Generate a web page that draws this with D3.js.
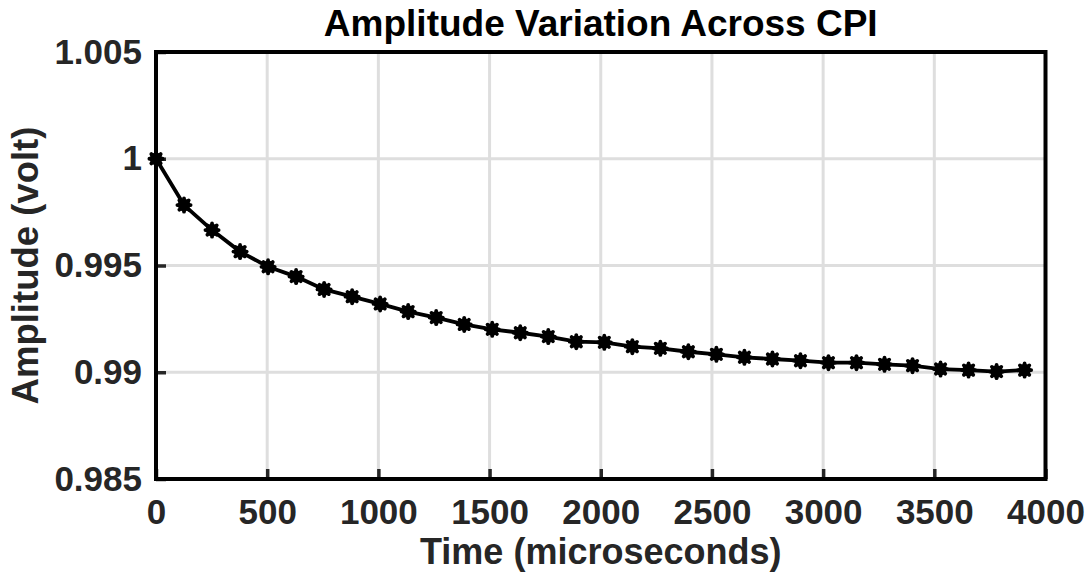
<!DOCTYPE html>
<html>
<head>
<meta charset="utf-8">
<script src="https://cdn.jsdelivr.net/npm/d3@7"></script>
<style>
  html, body { margin: 0; padding: 0; background: #fff; }
  svg { display: block; font-family: "Liberation Sans", Arial, Helvetica, sans-serif; font-weight: bold; }
</style>
</head>
<body>
<svg id="chart" width="1091" height="577"></svg>
<script>
// Pulse times across the coherent processing interval (microseconds)
const times = [0, 126, 252, 378, 504, 630, 756, 882, 1008, 1134, 1260, 1386, 1512, 1638, 1764, 1890,
               2016, 2142, 2268, 2394, 2520, 2646, 2772, 2898, 3024, 3150, 3276, 3402, 3528, 3654, 3780, 3906];
// Measured amplitude per pulse (volt)
const amplitudes = [1.0000, 0.99783, 0.99666, 0.99565, 0.99494, 0.99448, 0.99388, 0.99354, 0.99320, 0.99284,
                    0.99256, 0.99224, 0.99201, 0.99185, 0.99167, 0.99143, 0.99140, 0.99120, 0.99112, 0.99096,
                    0.99084, 0.99070, 0.99062, 0.99054, 0.99045, 0.99045, 0.99037, 0.99031, 0.99015, 0.99010,
                    0.99003, 0.99010];
const xTicks = [0, 500, 1000, 1500, 2000, 2500, 3000, 3500, 4000];
const yTicks = [0.985, 0.99, 0.995, 1, 1.005];
const yTickLabels = ["0.985", "0.99", "0.995", "1", "1.005"];

const svg = d3.select("#chart");
const plot = { left: 156, right: 1045.5, top: 52, bottom: 479 };

const x = d3.scaleLinear().domain([0, 4000]).range([plot.left, plot.right]);
const y = d3.scaleLinear().domain([0.985, 1.005]).range([plot.bottom, plot.top]);

const textColor = "#262626";

// Grid lines
const grid = svg.append("g");
grid.selectAll("line.gx").data(xTicks.slice(1, -1)).join("line")
  .attr("x1", d => x(d)).attr("x2", d => x(d))
  .attr("y1", plot.top).attr("y2", plot.bottom)
  .attr("stroke", "#dedede").attr("stroke-width", 3);
grid.selectAll("line.gy").data(yTicks.slice(1, -1)).join("line")
  .attr("y1", d => y(d)).attr("y2", d => y(d))
  .attr("x1", plot.left).attr("x2", plot.right)
  .attr("stroke", "#dedede").attr("stroke-width", 3);

// Axes with inward ticks
const xAxis = d3.axisBottom(x).tickValues(xTicks).tickSizeInner(-10).tickSizeOuter(0).tickPadding(20)
  .tickFormat(d3.format("d"));
const gx = svg.append("g").attr("transform", `translate(0,${plot.bottom})`).call(xAxis);
gx.select(".domain").remove();
gx.selectAll(".tick line").attr("stroke", "#262626").attr("stroke-width", 3.5);
gx.selectAll(".tick text").attr("fill", textColor).style("font-size", "35px").style("font-weight", "bold")
  .attr("font-family", "Liberation Sans, Arial, sans-serif");

const yAxis = d3.axisLeft(y).tickValues(yTicks).tickSizeInner(-10).tickSizeOuter(0).tickPadding(14)
  .tickFormat((d, i) => yTickLabels[i]);
const gy = svg.append("g").attr("transform", `translate(${plot.left},0)`).call(yAxis);
gy.select(".domain").remove();
gy.selectAll(".tick line").attr("stroke", "#262626").attr("stroke-width", 3.5);
gy.selectAll(".tick text").attr("fill", textColor).style("font-size", "35px").style("font-weight", "bold")
  .attr("font-family", "Liberation Sans, Arial, sans-serif");

// Box
svg.append("rect")
  .attr("x", plot.left).attr("y", plot.top)
  .attr("width", plot.right - plot.left).attr("height", plot.bottom - plot.top)
  .attr("fill", "none").attr("stroke", "#000").attr("stroke-width", 4);

// Data line
const line = d3.line().x((d, i) => x(times[i])).y(d => y(d));
svg.append("path").datum(amplitudes)
  .attr("d", line).attr("fill", "none").attr("stroke", "#000").attr("stroke-width", 3.8)
  .attr("stroke-linejoin", "round");

// Asterisk markers drawn with a heavy stroke
const markers = svg.append("g").selectAll("g").data(amplitudes).join("g")
  .attr("transform", (d, i) => `translate(${x(times[i])},${y(d)})`);
markers.append("circle").attr("r", 6.3).attr("fill", "#000");
const r = 6.6;
[0, 45, 90, 135].forEach(a => {
  const rad = a * Math.PI / 180;
  markers.append("line")
    .attr("x1", -r * Math.cos(rad)).attr("y1", -r * Math.sin(rad))
    .attr("x2", r * Math.cos(rad)).attr("y2", r * Math.sin(rad))
    .attr("stroke", "#000").attr("stroke-width", 3.8).attr("stroke-linecap", "round");
});

// Titles
svg.append("text").attr("x", (plot.left + plot.right) / 2).attr("y", 36)
  .attr("text-anchor", "middle").attr("fill", "#000").style("font-size", "37px")
  .text("Amplitude Variation Across CPI");
svg.append("text").attr("x", (plot.left + plot.right) / 2).attr("y", 564)
  .attr("text-anchor", "middle").attr("fill", textColor).style("font-size", "36px")
  .text("Time (microseconds)");
svg.append("text")
  .attr("transform", `translate(38,${(plot.top + plot.bottom) / 2}) rotate(-90)`)
  .attr("text-anchor", "middle").attr("fill", textColor).style("font-size", "36.5px")
  .text("Amplitude (volt)");
</script>
</body>
</html>
